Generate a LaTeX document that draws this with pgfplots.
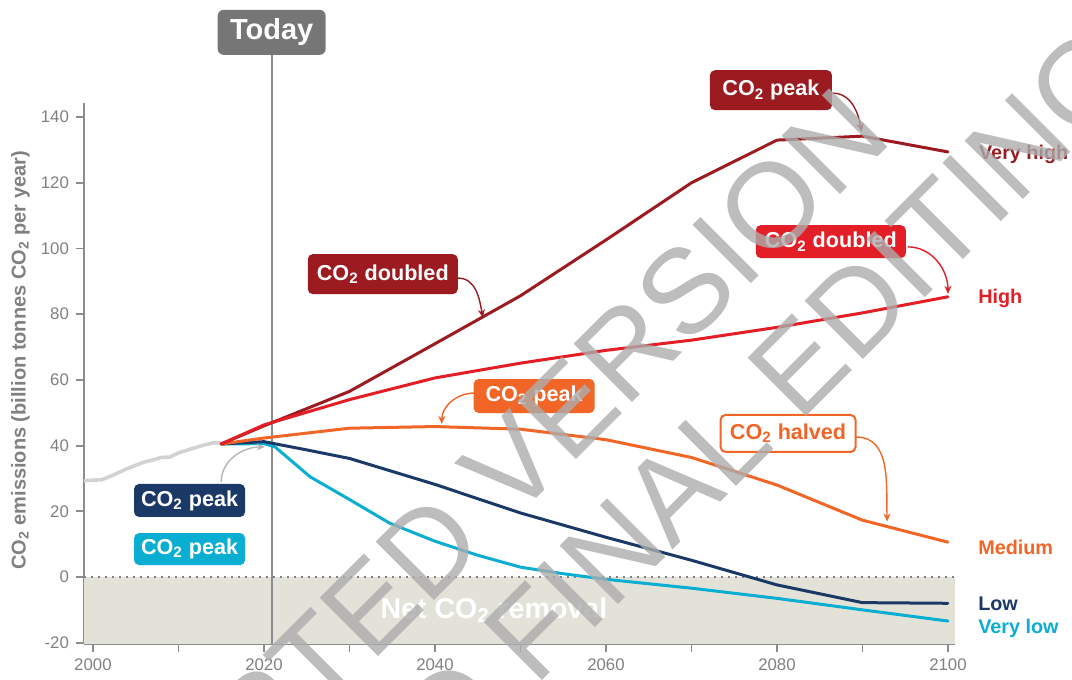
\documentclass[border=0pt]{standalone}
\usepackage{pgfplots}
\pgfplotsset{compat=1.18}
\usepackage{fontspec}
\setmainfont{Liberation Sans}
\usetikzlibrary{arrows.meta}
\definecolor{cVH}{RGB}{155,27,32}
\definecolor{cH}{RGB}{228,30,38}
\definecolor{cM}{RGB}{241,102,39}
\definecolor{cL}{RGB}{27,57,103}
\definecolor{cVL}{RGB}{10,174,210}
\definecolor{cHist}{RGB}{210,210,210}
\definecolor{cToday}{RGB}{118,118,118}
\definecolor{cShade}{RGB}{227,226,216}
\definecolor{cAxis}{RGB}{140,140,140}
\definecolor{cTick}{RGB}{128,128,128}
\definecolor{cWM}{RGB}{172,172,172}
\definecolor{cArrGray}{RGB}{180,180,180}
\newcommand{\co}{CO\textsubscript{2}}

\begin{document}
\begin{tikzpicture}[
  box/.style={rounded corners=2.5pt, text=white, inner sep=0pt, align=center, font=\fontsize{10.8}{12}\selectfont\bfseries},
  arr/.style={-{Stealth[length=4pt,width=3.5pt]}, line width=0.7pt},
  rlab/.style={anchor=west, font=\fontsize{9.9}{12}\selectfont\bfseries, inner sep=0pt},
  ser/.style={line width=1.5pt, line join=round, line cap=round}
]
\begin{axis}[
  scale only axis, width=435.41pt, height=270.36pt,
  xmin=1998.95, xmax=2100.8, ymin=-20.3, ymax=144.3,
  axis x line*=bottom, axis y line*=left,
  axis line style={draw=cAxis, line width=1pt, -},
  xtick={2000,2010,...,2100},
  xticklabels={2000,,2020,,2040,,2060,,2080,,2100},
  ytick={-20,0,...,140},
  tick align=outside, major tick length=4pt,
  tick style={draw=cAxis, line width=0.9pt},
  ticklabel style={font=\fontsize{8.4}{10}\selectfont, text=cTick},
  /pgf/number format/assume math mode=true,
  ylabel={\co{} emissions (billion tonnes \co{} per year)},
  ylabel style={at={(axis description cs:-0.073,0.524)}, anchor=center, font=\fontsize{10}{12}\selectfont\bfseries, text=cTick},
  clip=false,
]
% net removal zone
\addplot[fill=cShade, draw=none] coordinates {(1998.95,0) (2100.8,0) (2100.8,-20.3) (1998.95,-20.3)} -- cycle;
\addplot[draw=cTick, line width=0.9pt, dash pattern=on 0.9pt off 2.6pt] coordinates {(1998.95,0) (2100.8,0)};
\node[text=white, font=\fontsize{14.3}{16}\selectfont\bfseries] at (axis cs:2046.9,-10) {Net \co{} removal};

% today line
\draw[cAxis, line width=0.9pt] (axis cs:2020.9,-20.3) -- (axis cs:2020.9,159);
\node[fill=cToday, rounded corners=3pt, text=white, minimum width=54pt, minimum height=22.5pt, inner sep=0pt, font=\fontsize{14.5}{16}\selectfont\bfseries] at (axis cs:2020.9,165.8) {Today};

% historical
\addplot[cHist, line width=1.8pt, line join=round] coordinates {
(1998.95,29.3) (2000,29.5) (2001,29.6) (2002,30.6) (2003,31.8) (2004,33.0) (2005,34.0) (2006,35.0) (2007,35.6) (2008,36.4) (2009,36.5) (2010,37.8) (2011,38.6) (2012,39.4) (2013,40.2) (2014,40.8) (2015,40.9)};

% scenarios
\addplot[cVL, ser] coordinates {
(2015,40.5) (2020,40.6) (2021.3,39.6) (2025.4,30.5) (2030,23.6) (2034.7,16.4) (2040,10.9) (2044.9,6.7) (2050,3.0) (2055,1.0) (2060,-0.7) (2070,-3.4) (2080,-6.5) (2090,-10) (2100,-13.4)};
\addplot[cL, ser] coordinates {
(2015,40.5) (2020,41.2) (2025,38.7) (2030,36.1) (2040,28.2) (2050,19.5) (2060,12.1) (2070,5.1) (2080,-2.4) (2090,-7.8) (2100,-8.0)};
\addplot[cM, ser] coordinates {
(2015,40.5) (2020,42.3) (2030,45.3) (2040,45.8) (2050,45.0) (2060,41.8) (2070,36.4) (2080,28.0) (2090,17.3) (2100,10.6)};
\addplot[cVH, ser] coordinates {
(2015,40.5) (2020,46.0) (2030,56.5) (2040,71.0) (2050,85.6) (2060,102.6) (2070,120.0) (2080,133.0) (2090,134.2) (2100,129.4)};
\addplot[cH, ser] coordinates {
(2015,40.5) (2020,46.3) (2030,54.0) (2040,60.6) (2050,65.1) (2060,69.0) (2070,72.1) (2080,76.0) (2090,80.4) (2100,85.3)};

% annotation boxes
\node[box, fill=cVH, minimum width=61pt, minimum height=20pt] at (axis cs:2079.3,148.2) {\co{} peak};
\draw[arr, cVH] (axis cs:2086.5,147.3) to[out=0, in=100] (axis cs:2089.9,135.6);

\node[box, fill=cVH, minimum width=75pt, minimum height=20pt] at (axis cs:2033.9,92.2) {\co{} doubled};
\draw[arr, cVH] (axis cs:2042.7,91.0) to[out=0, in=100] (axis cs:2045.6,79.0);

\node[box, fill=cH, minimum width=75pt, minimum height=16.5pt] at (axis cs:2086.3,102.1) {\co{} doubled};
\draw[arr, cH] (axis cs:2095.3,100.5) to[out=0, in=90] (axis cs:2100,86.2);

\node[box, fill=cM, minimum width=60.5pt, minimum height=17pt] at (axis cs:2051.6,55.1) {\co{} peak};
\draw[arr, cM] (axis cs:2044.6,56.0) to[out=180, in=90] (axis cs:2040.8,46.6);

\node[box, fill=white, draw=cM, line width=1pt, text=cM, minimum width=67.5pt, minimum height=18.5pt] at (axis cs:2081.3,43.7) {\co{} halved};
\draw[arr, cM] (axis cs:2089.3,42.6) to[out=0, in=92] (axis cs:2092.9,16.9);

\node[box, fill=cL, minimum width=55.5pt, minimum height=16.5pt] at (axis cs:2011.3,23.3) {\co{} peak};
\draw[arr, cArrGray] (axis cs:2015.0,28.9) to[out=90, in=180] (axis cs:2020.1,39.6);

\node[box, fill=cVL, minimum width=55.5pt, minimum height=16pt] at (axis cs:2011.3,8.5) {\co{} peak};

% right labels
\node[rlab, text=cVH] at (axis cs:2103.6,128.5) {Very high};
\node[rlab, text=cH] at (axis cs:2103.5,84.9) {High};
\node[rlab, text=cM] at (axis cs:2103.5,9.1) {Medium};
\node[rlab, text=cL] at (axis cs:2103.5,-8.2) {Low};
\node[rlab, text=cVL] at (axis cs:2103.5,-15.5) {Very low};

% frame and watermark anchors
\coordinate (BL) at (axis cs:1989.13,-31.05);
\coordinate (TR) at (axis cs:2114.51,175.65);
\coordinate (WM1) at (axis cs:2039.6,9.7);
\coordinate (WM2) at (axis cs:2051.8,-15.8);
\end{axis}
\begin{scope}
\clip (BL) rectangle (TR);
\node[rotate=45, text=cWM, opacity=0.8, inner sep=0pt, font=\fontsize{60}{66}\selectfont] at (WM1) {ACCEPTED VERSION};
\node[rotate=45, text=cWM, opacity=0.8, inner sep=0pt, font=\fontsize{60}{66}\selectfont] at (WM2) {SUBJECT TO FINAL EDITING};
\end{scope}
\pgfresetboundingbox
\useasboundingbox (BL) rectangle (TR);
\end{tikzpicture}
\end{document}
